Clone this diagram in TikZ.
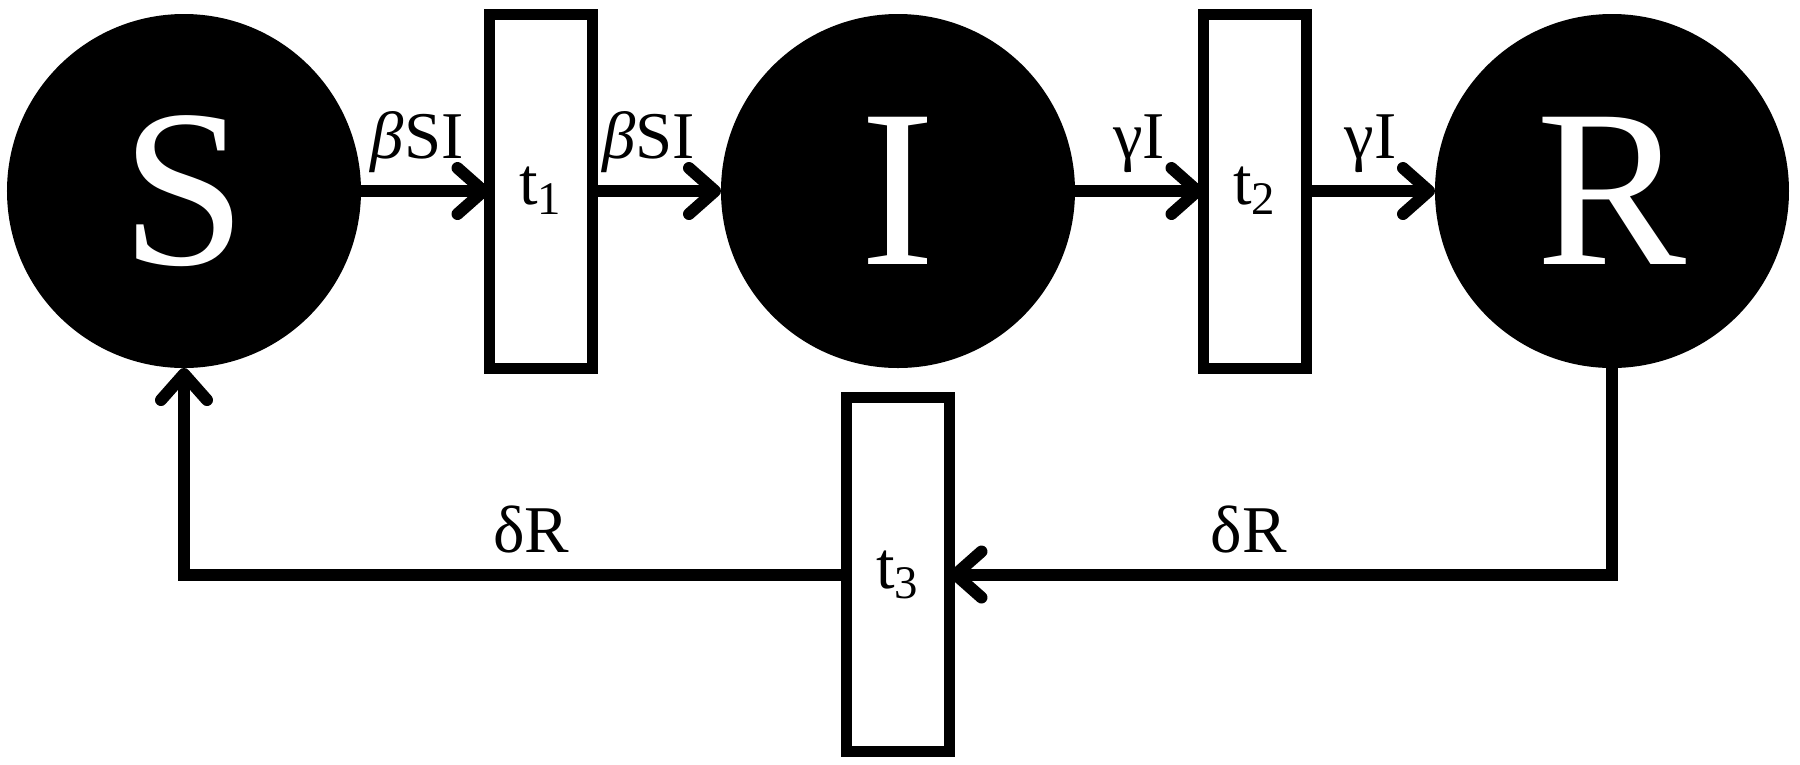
\documentclass[tikz,border=0pt]{standalone}
\usepackage{fontspec}
\setmainfont{Liberation Serif}
\usepackage{tikz}
\usetikzlibrary{arrows.meta,positioning}

\begin{document}
\begin{tikzpicture}[
  node distance=12.85mm and 12.85mm,
  comp/.style={circle, fill=black, text=white, minimum size=35.4mm, inner sep=0pt, outer sep=0pt, font=\fontsize{64}{64}\selectfont},
  delay/.style={draw=black, line width=1.1mm, fill=white, minimum width=10.3mm, minimum height=35.4mm, inner sep=0pt, outer sep=0pt, font=\fontsize{19}{19}\selectfont},
  rate/.style={anchor=base, inner sep=0pt, font=\fontsize{19}{19}\selectfont},
  arrow/.style={-{Straight Barb[length=2.6mm, width=4.6mm, line cap=round, line join=round]}, line width=1.2mm, draw=black}
]
\useasboundingbox (-18.4mm,19.1mm) rectangle (161.6mm,-57.3mm);
\node[comp] (S) {S};
\node[delay, right=of S] (t1) {t\textsubscript{1}};
\node[comp, right=of t1] (I) {I};
\node[delay, right=of I] (t2) {t\textsubscript{2}};
\node[comp, right=of t2] (R) {R};
\node[delay, below=2.95mm of I] (t3) {t\textsubscript{3}};
\draw[arrow] (S) -- node[rate, xshift=-0.8mm, yshift=3.3mm] (bsi1) {\textit{β}SI} (t1);
\draw[arrow] (t1) -- node[rate, xshift=-0.8mm, yshift=3.3mm] (bsi2) {\textit{β}SI} (I);
\draw[arrow] (I) -- node[rate, yshift=3.3mm] (gi1) {γI} (t2);
\draw[arrow] (t2) -- node[rate, yshift=3.3mm] (gi2) {γI} (R);
\draw[arrow] (R) |- node[rate, pos=0.774, yshift=2.2mm] (dr2) {δR} (t3);
\draw[arrow] (t3) -| node[rate, pos=0.238, yshift=2.2mm] (dr1) {δR} (S);
\end{tikzpicture}
\end{document}
